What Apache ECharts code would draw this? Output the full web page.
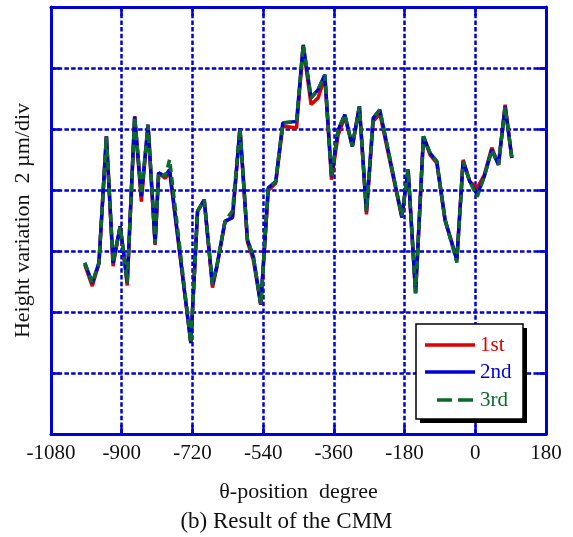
<!DOCTYPE html>
<html>
<head>
<meta charset="utf-8">
<script src="https://cdn.jsdelivr.net/npm/echarts@6/dist/echarts.min.js"></script>
<style>
  html, body { margin: 0; padding: 0; background: #fff; }
  #chart { width: 573px; height: 537px; }
</style>
</head>
<body>
<div id="chart"></div>
<script>
// θ-position of each measured point, degrees
const angles = [-994, -975, -958, -939, -922, -904, -893, -886, -867, -850,
  -833, -815, -806, -789, -778, -724, -707, -690, -669, -658,
  -637, -618, -599, -580, -565, -546, -527, -508, -490, -455,
  -438, -418, -400, -383, -366, -349, -332, -313, -295, -277,
  -260, -243, -187, -171, -152, -132, -115, -98, -77, -47,
  -31, -14, 5, 23, 42, 59, 76, 93];

// Height variation, µm (2 µm per division)
const run1st = [5.55, 4.85, 5.58, 9.76, 5.50, 6.81, 5.71, 4.87, 10.41, 7.62,
  10.14, 6.20, 8.56, 8.38, 8.60, 2.98, 7.30, 7.68, 4.80, 5.45,
  6.97, 7.10, 10.03, 6.30, 5.71, 4.24, 7.98, 8.22, 10.10, 10.03,
  12.70, 10.80, 11.02, 11.70, 8.34, 9.81, 10.40, 9.43, 10.74, 7.20,
  10.25, 10.50, 7.09, 8.67, 4.62, 9.76, 9.15, 8.88, 7.00, 5.71,
  8.99, 8.28, 8.07, 8.50, 9.39, 8.83, 10.80, 9.05];

const run2nd = [5.61, 4.95, 5.61, 9.76, 5.61, 6.81, 5.71, 4.97, 10.41, 7.79,
  10.14, 6.26, 8.56, 8.45, 8.67, 2.98, 7.30, 7.68, 4.90, 5.50,
  6.97, 7.10, 10.03, 6.37, 5.82, 4.24, 8.07, 8.28, 10.20, 10.25,
  12.76, 11.02, 11.29, 11.78, 8.45, 9.98, 10.47, 9.43, 10.74, 7.30,
  10.36, 10.63, 7.13, 8.67, 4.62, 9.76, 9.21, 8.94, 7.03, 5.71,
  8.94, 8.28, 7.85, 8.45, 9.32, 8.83, 10.74, 9.05];

const run3rd = [5.61, 4.95, 5.61, 9.76, 5.61, 6.81, 5.71, 4.97, 10.41, 7.85,
  10.14, 6.26, 8.56, 8.45, 9.00, 2.98, 7.30, 7.68, 4.90, 5.50,
  6.97, 7.32, 10.03, 6.37, 5.82, 4.24, 8.07, 8.28, 10.20, 10.25,
  12.76, 11.02, 11.29, 11.78, 8.45, 9.98, 10.47, 9.43, 10.74, 7.30,
  10.36, 10.63, 7.13, 8.67, 4.62, 9.76, 9.21, 8.94, 7.03, 5.62,
  8.94, 8.28, 7.78, 8.45, 9.32, 8.83, 10.74, 9.05];

const seriesNames = ['1st', '2nd', '3rd'];

const xTicks = { min: -1080, max: 180, step: 180 };
const yTicks = { min: 0, max: 14, step: 2 };

const FONT = 'Liberation Serif';
const INK = '#111';
const BLUE = '#0000d8';
const RED = '#e00000';
const GREEN = '#0b6a2a';
const GREEN_DASH = [8, 5];

const pairs = ys => angles.map((a, i) => [a, ys[i]]);

const gridLine = { show: true, lineStyle: { color: BLUE, width: 2.5, type: [4.5, 2.2] } };
const frameLine = { show: true, onZero: false, lineStyle: { color: BLUE, width: 3 } };
const innerTick = { show: true, inside: true, length: 9, lineStyle: { color: BLUE, width: 2.5 } };

// Boxed legend with a drop shadow, lower right inside the plot
const LEG = { x: 416, y: 324, w: 107, h: 95, lineX: 425, lineW: 50, textX: 480, rows: [345, 372, 400] };
const legendGraphic = [
  { type: 'rect', shape: { x: LEG.x + 4, y: LEG.y + 4, width: LEG.w, height: LEG.h },
    style: { fill: '#000' }, z: 100 },
  { type: 'rect', shape: { x: LEG.x, y: LEG.y, width: LEG.w, height: LEG.h },
    style: { fill: '#fff', stroke: '#000', lineWidth: 1.5 }, z: 101 },
  { type: 'line', shape: { x1: LEG.lineX, y1: LEG.rows[0], x2: LEG.lineX + LEG.lineW, y2: LEG.rows[0] },
    style: { stroke: RED, lineWidth: 3.5 }, z: 102 },
  { type: 'line', shape: { x1: LEG.lineX, y1: LEG.rows[1], x2: LEG.lineX + LEG.lineW, y2: LEG.rows[1] },
    style: { stroke: BLUE, lineWidth: 3.5 }, z: 102 },
  { type: 'line', shape: { x1: LEG.lineX + 12, y1: LEG.rows[2], x2: LEG.lineX + LEG.lineW, y2: LEG.rows[2] },
    style: { stroke: GREEN, lineWidth: 3.5, lineDash: [15, 6] }, z: 102 },
  ...seriesNames.map((n, i) => ({
    type: 'text', x: LEG.textX, y: LEG.rows[i], z: 102,
    style: { text: n, fill: [RED, BLUE, GREEN][i], font: '21px "' + FONT + '"', textVerticalAlign: 'middle', verticalAlign: 'middle' }
  }))
];

const chart = echarts.init(document.getElementById('chart'), null, { renderer: 'canvas' });

chart.setOption({
  animation: false,
  backgroundColor: '#fff',
  grid: { left: 51, right: 27, top: 7, bottom: 103 },
  xAxis: [
    {
      type: 'value', position: 'bottom',
      min: xTicks.min, max: xTicks.max, interval: xTicks.step,
      axisLine: frameLine, axisTick: innerTick, splitLine: gridLine,
      axisLabel: { color: INK, fontFamily: FONT, fontSize: 21, margin: 9, formatter: v => String(v) },
      name: 'θ-position  degree', nameLocation: 'middle', nameGap: 47,
      nameTextStyle: { color: INK, fontFamily: FONT, fontSize: 22 }
    },
    {
      type: 'value', position: 'top',
      min: xTicks.min, max: xTicks.max, interval: xTicks.step,
      axisLine: frameLine, axisTick: innerTick, splitLine: { show: false },
      axisLabel: { show: false }
    }
  ],
  yAxis: [
    {
      type: 'value', position: 'left',
      min: yTicks.min, max: yTicks.max, interval: yTicks.step,
      axisLine: frameLine, axisTick: innerTick, splitLine: gridLine,
      axisLabel: { show: false },
      name: 'Height variation  2 µm/div', nameLocation: 'middle', nameGap: 17,
      nameTextStyle: { color: INK, fontFamily: FONT, fontSize: 22 }
    },
    {
      type: 'value', position: 'right',
      min: yTicks.min, max: yTicks.max, interval: yTicks.step,
      axisLine: frameLine, axisTick: innerTick, splitLine: { show: false },
      axisLabel: { show: false }
    }
  ],
  title: {
    text: '(b) Result of the CMM',
    left: 'center', top: 505,
    textStyle: { color: INK, fontFamily: FONT, fontSize: 23, fontWeight: 'normal' }
  },
  graphic: legendGraphic,
  series: [
    {
      name: seriesNames[0], type: 'line', data: pairs(run1st),
      symbol: 'none', showSymbol: false, z: 3,
      lineStyle: { color: RED, width: 3.5 }
    },
    {
      name: seriesNames[1], type: 'line', data: pairs(run2nd),
      symbol: 'none', showSymbol: false, z: 4,
      lineStyle: { color: BLUE, width: 3.5 }
    },
    {
      name: seriesNames[2], type: 'line', data: pairs(run3rd),
      symbol: 'none', showSymbol: false, z: 5,
      lineStyle: { color: GREEN, width: 3.5, type: GREEN_DASH }
    }
  ]
});
</script>
</body>
</html>
